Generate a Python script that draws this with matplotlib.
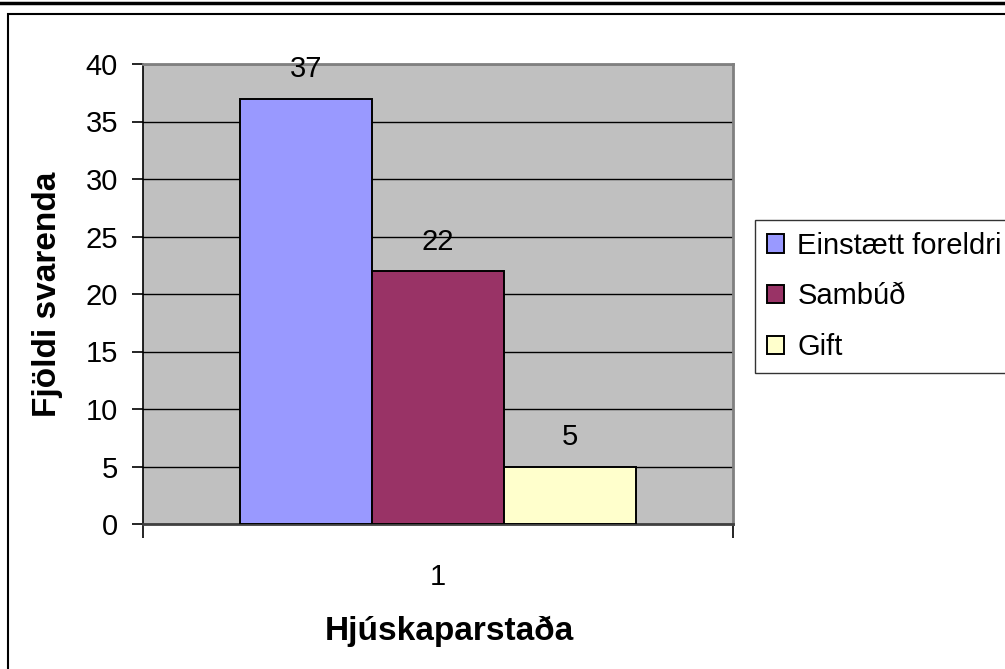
import numpy as np
import matplotlib as mpl
from matplotlib import pyplot as plt
from matplotlib.patches import Rectangle
from matplotlib.lines import Line2D

categories = ['1']
series = ['Einstætt foreldri', 'Sambúð', 'Gift']
values = [37, 22, 5]
colors = ['#9999FF', '#993366', '#FFFFCC']
yticks = [0, 5, 10, 15, 20, 25, 30, 35, 40]

plt.rcParams['font.family'] = ['Liberation Sans', 'DejaVu Sans']
plt.rcParams['font.size'] = 21

W, H = 1005, 669
fig = plt.figure(figsize=(W / 100, H / 100), dpi=100)

# plot area in pixels: x 143..733, y 64..524
ax = fig.add_axes([143 / W, 1 - 524 / H, 590 / W, 460 / H])
ax.set_facecolor('#C0C0C0')

bar_w = 132 / 590
x = np.arange(len(categories))
for i, (name, val, col) in enumerate(zip(series, values, colors)):
    offset = (i - (len(series) - 1) / 2) * bar_w
    bars = ax.bar(x + offset, [val], width=bar_w, color=col, edgecolor='black',
                  linewidth=1.4, label=name, zorder=3)
    ax.bar_label(bars, padding=11, fontsize=21)

ax.set_xlim(-0.5, len(categories) - 0.5)
ax.set_ylim(0, 40)
ax.set_yticks(yticks)
ax.yaxis.grid(True, color='black', linewidth=1)
ax.set_axisbelow(True)

ax.set_xticks(np.arange(len(categories) + 1) - 0.5)
ax.set_xticklabels([])
ax.set_xticks(x, minor=True)
ax.set_xticklabels(categories, minor=True)
ax.tick_params(axis='x', which='major', length=10, width=1.2, direction='out')
ax.tick_params(axis='x', which='minor', length=0, pad=28, labelsize=21)
ax.tick_params(axis='y', length=8, width=1.2, direction='out', pad=10, labelsize=21)

for s in ['top', 'right']:
    ax.spines[s].set_color('#808080')
    ax.spines[s].set_linewidth(2)
ax.spines['left'].set_linewidth(1.2)
ax.spines['bottom'].set_linewidth(2)
ax.spines['bottom'].set_color('#404040')

ax.set_ylabel('Fjöldi svarenda', fontsize=24, fontweight='bold', labelpad=16)
ax.set_xlabel('Hjúskaparstaða', fontsize=24, fontweight='bold')
ax.xaxis.set_label_coords(0.52, -0.2, transform=ax.transAxes)

leg = fig.legend(loc='upper left', bbox_to_anchor=(755 / W, 1 - 220 / H),
                 frameon=True, fancybox=False, fontsize=21, handlelength=0.6,
                 handleheight=0.6, handletextpad=0.45, labelspacing=0.78,
                 borderpad=0.4, borderaxespad=0)
leg.get_frame().set_edgecolor('black')
leg.get_frame().set_linewidth(1)

# chart border and top frame line
fig.patches.append(Rectangle((8 / W, -0.1), 1.2, 1 - 14.5 / H + 0.1,
                             transform=fig.transFigure, fill=False,
                             edgecolor='black', linewidth=1.5))
fig.lines.append(Line2D([0, 1], [1 - 3 / H, 1 - 3 / H], transform=fig.transFigure,
                        color='black', linewidth=2.5))

fig.savefig('out.png', dpi=100)
